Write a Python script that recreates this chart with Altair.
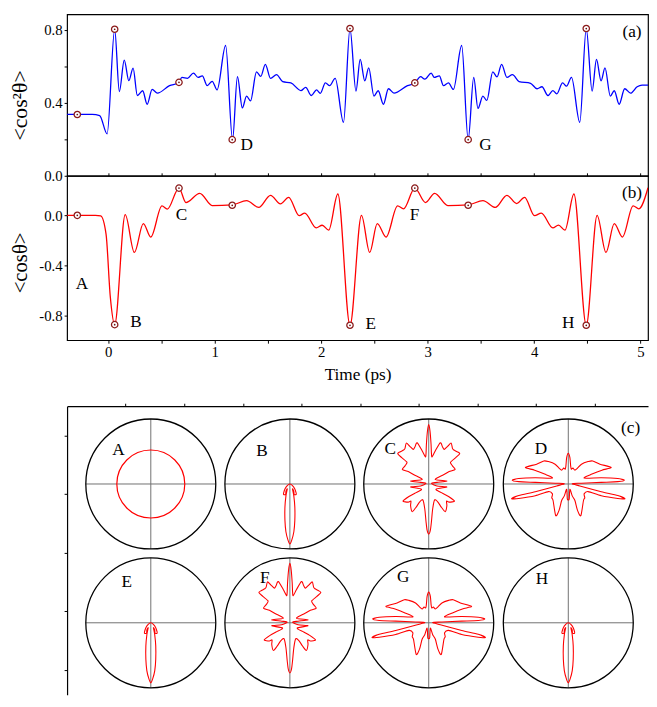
import altair as alt
import pandas as pd

# ---------------- panel (a): <cos^2 theta> vs time ----------------
T_A = [-0.386, -0.15, -0.08, -0.01, 0.061, 0.105, 0.151, 0.194, 0.234, 0.274,
       0.324, 0.366, 0.413, 0.462, 0.576, 0.662, 0.693, 0.745, 0.801, 0.844,
       0.884, 0.930, 0.977, 1.023, 1.103, 1.168, 1.214, 1.26, 1.30, 1.337,
       1.393, 1.433, 1.476, 1.525, 1.581, 1.639, 1.716, 1.81, 1.855, 1.908,
       1.957, 1.992, 2.04, 2.08, 2.132, 2.21, 2.271, 2.327, 2.367, 2.41,
       2.447, 2.496, 2.536, 2.585, 2.632, 2.684, 2.811, 2.881, 2.934, 2.974,
       3.034, 3.062, 3.11, 3.149, 3.196, 3.242, 3.32, 3.381, 3.433, 3.473,
       3.519, 3.556, 3.612, 3.652, 3.695, 3.745, 3.797, 3.859, 3.967, 4.028,
       4.074, 4.13, 4.176, 4.213, 4.268, 4.305, 4.351, 4.429, 4.49, 4.545,
       4.586, 4.629, 4.666, 4.716, 4.753, 4.799, 4.851, 4.906, 4.968, 5.014,
       5.07]
V_A = [0.336, 0.336, 0.33, 0.23, 0.803, 0.462, 0.634, 0.521, 0.59, 0.44,
       0.466, 0.392, 0.473, 0.453, 0.494, 0.51, 0.539, 0.534, 0.563, 0.539,
       0.548, 0.494, 0.518, 0.471, 0.714, 0.198, 0.543, 0.372, 0.437, 0.41,
       0.570, 0.545, 0.611, 0.534, 0.554, 0.516, 0.509, 0.467, 0.485, 0.44,
       0.471, 0.452, 0.509, 0.494, 0.534, 0.293, 0.807, 0.464, 0.638, 0.52,
       0.591, 0.437, 0.466, 0.392, 0.477, 0.453, 0.494, 0.509, 0.543, 0.53,
       0.563, 0.539, 0.548, 0.494, 0.509, 0.473, 0.714, 0.198, 0.539, 0.369,
       0.437, 0.413, 0.570, 0.542, 0.611, 0.539, 0.554, 0.516, 0.507, 0.477,
       0.488, 0.44, 0.467, 0.449, 0.509, 0.491, 0.539, 0.293, 0.807, 0.464,
       0.638, 0.52, 0.591, 0.437, 0.466, 0.392, 0.477, 0.453, 0.488, 0.497,
       0.497]

# ---------------- panel (b): <cos theta> vs time ----------------
T_B = [-0.386, -0.12, -0.07, -0.02, 0.02, 0.061, 0.16, 0.246, 0.33, 0.40,
       0.505, 0.555, 0.665, 0.73, 0.86, 0.977, 1.165, 1.30, 1.414, 1.525,
       1.618, 1.695, 1.794, 1.846, 1.954, 2.01, 2.071, 2.157, 2.271, 2.379,
       2.456, 2.527, 2.61, 2.718, 2.774, 2.88, 2.98, 3.066, 3.19, 3.381,
       3.52, 3.636, 3.745, 3.837, 3.911, 4.004, 4.068, 4.176, 4.229, 4.29,
       4.374, 4.49, 4.592, 4.675, 4.753, 4.83, 4.93, 4.984, 5.07]
V_B = [0.0, 0.0, -0.005, -0.15, -0.65, -0.871, 0.005, -0.296, -0.066, -0.173,
       0.075, 0.049, 0.217, 0.102, 0.175, 0.078, 0.083, 0.118, 0.063, 0.159,
       0.091, 0.143, -0.003, 0.018, -0.1, -0.079, -0.118, 0.17, -0.876, 0.0,
       -0.296, -0.066, -0.173, 0.075, 0.052, 0.217, 0.102, 0.175, 0.078, 0.083,
       0.118, 0.063, 0.159, 0.094, 0.143, -0.003, 0.018, -0.1, -0.078, -0.118,
       0.17, -0.876, 0.0, -0.296, -0.066, -0.173, 0.075, 0.052, 0.22]

# ---------------- snapshot instants A..H ----------------
SNAP = ["A", "B", "C", "D", "E", "F", "G", "H"]
SNAP_T = [-0.29, 0.061, 0.665, 1.165, 2.271, 2.88, 3.381, 4.49]
SNAP_COS2 = [0.336, 0.803, 0.512, 0.198, 0.807, 0.509, 0.198, 0.807]
SNAP_COS = [0.0, -0.871, 0.217, 0.08, -0.876, 0.217, 0.08, -0.876]

# letter annotations in the time panels
LAB_A_TEXT = ["D", "G", "(a)"]
LAB_A_T = [1.30, 3.544, 4.92]
LAB_A_V = [0.171, 0.171, 0.79]
LAB_B_TEXT = ["A", "B", "C", "E", "F", "H", "(b)"]
LAB_B_T = [-0.247, 0.262, 0.689, 2.465, 2.878, 4.321, 4.92]
LAB_B_V = [-0.544, -0.85, 0.0, -0.863, 0.0, -0.858, 0.175]

# ---------------- panel (c): angular distributions ----------------
# snapshot A is isotropic: a circle of this radius (units of the outer circle radius)
SHAPE_A_R = 0.523
# right half of each outline, top -> bottom, in units of circle radius (y up)
SHAPE_B_X = [0.0, 0.04, 0.076, 0.096, 0.096, 0.066, 0.06, 0.04, 0.06, 0.076,
             0.076, 0.061, 0.03, 0.0]
SHAPE_B_Y = [0.0, -0.025, -0.076, -0.137, -0.162, -0.162, -0.11, -0.076, -0.18, -0.355,
             -0.56, -0.735, -0.86, -0.924]
SHAPE_C_X = [0.0, 0.02, 0.036, 0.041, 0.051, 0.10, 0.178, 0.213, 0.239, 0.294,
             0.345, 0.365, 0.386, 0.437, 0.477, 0.416, 0.335, 0.365, 0.406, 0.315,
             0.228, 0.10, 0.279, 0.127, 0.041, 0.127, 0.279, 0.112, 0.213, 0.305,
             0.396, 0.315, 0.274, 0.279, 0.254, 0.193, 0.142, 0.091, 0.061, 0.041,
             0.025, 0.0]
SHAPE_C_Y = [0.914, 0.812, 0.609, 0.482, 0.416, 0.508, 0.635, 0.569, 0.533, 0.584,
             0.629, 0.548, 0.523, 0.497, 0.467, 0.406, 0.335, 0.279, 0.223, 0.193,
             0.142, 0.071, 0.046, 0.025, 0.01, -0.03, -0.046, -0.081, -0.142, -0.193,
             -0.264, -0.279, -0.264, -0.335, -0.426, -0.355, -0.279, -0.244, -0.381, -0.584,
             -0.711, -0.772]
SHAPE_D_X = [0.0, 0.025, 0.036, 0.046, 0.071, 0.102, 0.142, 0.203, 0.305, 0.376,
             0.487, 0.66, 0.518, 0.365, 0.244, 0.508, 0.762, 0.863, 0.762, 0.508,
             0.203, 0.061, 0.178, 0.508, 0.762, 0.873, 0.762, 0.508, 0.305, 0.244,
             0.254, 0.234, 0.193, 0.142, 0.102, 0.061, 0.025, 0.015, 0.0]
SHAPE_D_Y = [0.472, 0.406, 0.284, 0.228, 0.244, 0.213, 0.244, 0.305, 0.345, 0.355,
             0.305, 0.254, 0.213, 0.152, 0.091, 0.096, 0.084, 0.058, 0.036, 0.025,
             0.012, 0.005, -0.03, -0.118, -0.178, -0.228, -0.222, -0.18, -0.117, -0.152,
             -0.213, -0.254, -0.487, -0.406, -0.254, -0.183, -0.081, -0.228, -0.244]
SNAP_SHAPE = ["A", "B", "C", "D", "B", "C", "D", "B"]

# circle centres (panel-c units; one unit = one top-axis tick interval)
CENTER_X = [1.429, 3.803, 6.173, 8.555, 1.429, 3.803, 6.173, 8.555]
CENTER_Y = [1.328, 1.328, 1.328, 1.328, 3.697, 3.697, 3.697, 3.697]
LETTER_X = [0.879, 3.328, 5.518, 8.089, 1.020, 3.373, 5.736, 8.106]
LETTER_Y = [0.751, 0.768, 0.728, 0.728, 3.008, 2.929, 2.924, 2.958]

# ---------------- layout constants ----------------
FONT = "Liberation Serif"
W = 590
H_A, H_B, GAP, H_C = 164, 167, 67, 293
PX = 59.5            # px per panel-c unit
R = 66.0 / PX        # circle radius in panel-c units
LBL = dict(labelFont=FONT, labelFontSize=15, labelColor="black", labelPadding=2,
           tickColor="black", tickSize=3, tickWidth=1, grid=False,
           titleFont=FONT, titleFontWeight="normal", titleColor="black")

X_TICKS = [i * 0.5 for i in range(0, 11)]
xscale = alt.Scale(domain=[-0.386, 5.07], nice=False, zero=False)

# ---------------- panel (a) ----------------
df_a = pd.DataFrame({"t": T_A, "v": V_A})
df_snap = pd.DataFrame({"s": SNAP, "t": SNAP_T, "c2": SNAP_COS2, "c1": SNAP_COS})
yscale_a = alt.Scale(domain=[0, 0.885], nice=False, zero=False)

line_a = alt.Chart(df_a).mark_line(color="#0000ff", strokeWidth=1.3,
                                   interpolate="monotone", clip=True).encode(
    x=alt.X("t:Q", scale=xscale,
            axis=alt.Axis(values=X_TICKS, labels=False, title=None, domain=False,
                          ticks=True, offset=-3, **LBL)),
    y=alt.Y("v:Q", scale=yscale_a,
            axis=alt.Axis(values=[0, 0.2, 0.4, 0.6, 0.8], title="<cos²θ>",
                          labelExpr="round(datum.value*10) % 4 == 0 ? format(datum.value, '.1f') : ''",
                          titleFontSize=22, titleX=-36, titleY=92, domain=False, **LBL)),
)
mk_a = alt.Chart(df_snap).mark_point(shape="circle", filled=True, fill="white",
                                     stroke="#8b1a1a", strokeWidth=1.3, size=42,
                                     opacity=1).encode(
    x=alt.X("t:Q", scale=xscale), y=alt.Y("c2:Q", scale=yscale_a))
dot_a = alt.Chart(df_snap).mark_point(shape="circle", filled=True, color="#6b1010",
                                      size=3, opacity=1).encode(
    x=alt.X("t:Q", scale=xscale), y=alt.Y("c2:Q", scale=yscale_a))
txt_a = alt.Chart(pd.DataFrame({"s": LAB_A_TEXT, "t": LAB_A_T, "v": LAB_A_V})).mark_text(
    font=FONT, fontSize=17.5, color="black").encode(
    x=alt.X("t:Q", scale=xscale), y=alt.Y("v:Q", scale=yscale_a), text="s:N")
panel_a = alt.layer(line_a, mk_a, dot_a, txt_a).properties(width=W, height=H_A)

# ---------------- panel (b) ----------------
df_b = pd.DataFrame({"t": T_B, "v": V_B})
yscale_b = alt.Scale(domain=[-0.995, 0.315], nice=False, zero=False)
line_b = alt.Chart(df_b).mark_line(color="#ff0000", strokeWidth=1.3,
                                   interpolate="monotone", clip=True).encode(
    x=alt.X("t:Q", scale=xscale,
            axis=alt.Axis(values=X_TICKS, title="Time (ps)", titleFontSize=17.5,
                          labelExpr="datum.value % 1 == 0 ? format(datum.value, 'd') : ''",
                          domain=False, titlePadding=6, **LBL)),
    y=alt.Y("v:Q", scale=yscale_b,
            axis=alt.Axis(values=[-0.8, -0.6, -0.4, -0.2, 0.0, 0.2], title="<cosθ>",
                          labelExpr="round(datum.value*10) % 4 == 0 ? ((datum.value < -0.001 ? '-' : '') + format(abs(datum.value), '.1f')) : ''",
                          titleFontSize=21, titleX=-37, titleY=88, domain=False, **LBL)),
)
mk_b = alt.Chart(df_snap).mark_point(shape="circle", filled=True, fill="white",
                                     stroke="#8b1a1a", strokeWidth=1.3, size=42,
                                     opacity=1).encode(
    x=alt.X("t:Q", scale=xscale), y=alt.Y("c1:Q", scale=yscale_b))
dot_b = alt.Chart(df_snap).mark_point(shape="circle", filled=True, color="#6b1010",
                                      size=3, opacity=1).encode(
    x=alt.X("t:Q", scale=xscale), y=alt.Y("c1:Q", scale=yscale_b))
txt_b = alt.Chart(pd.DataFrame({"s": LAB_B_TEXT, "t": LAB_B_T, "v": LAB_B_V})).mark_text(
    font=FONT, fontSize=17.5, color="black").encode(
    x=alt.X("t:Q", scale=xscale), y=alt.Y("v:Q", scale=yscale_b), text="s:N")
panel_b = alt.layer(line_b, mk_b, dot_b, txt_b).properties(width=W, height=H_B)

# ---------------- spacer ----------------
spacer = alt.Chart(pd.DataFrame({"t": [0.0]})).mark_point(opacity=0).encode(
    x=alt.X("t:Q", axis=None), y=alt.Y("t:Q", axis=None)
).properties(width=W, height=GAP, view=alt.ViewBackground(stroke="transparent"))

# ---------------- panel (c) ----------------
shapes = {"B": (SHAPE_B_X, SHAPE_B_Y), "C": (SHAPE_C_X, SHAPE_C_Y),
          "D": (SHAPE_D_X, SHAPE_D_Y)}
rows = []
for s, key, cx, cy in zip(SNAP, SNAP_SHAPE, CENTER_X, CENTER_Y):
    if key not in shapes:
        continue
    xs, ys = shapes[key]
    pts = list(zip(xs, ys))
    full = pts + [(-x, y) for x, y in reversed(pts[1:-1])]
    for k, (dx, dy) in enumerate(full):
        rows.append({"s": s, "k": k, "x": cx + dx * R, "y": cy - dy * R})
df_shape = pd.DataFrame(rows)
df_c = pd.DataFrame({"s": SNAP, "cx": CENTER_X, "cy": CENTER_Y,
                     "x1": [c - R for c in CENTER_X], "x2": [c + R for c in CENTER_X],
                     "y1": [c - R for c in CENTER_Y], "y2": [c + R for c in CENTER_Y],
                     "lx": LETTER_X, "ly": LETTER_Y, "shape": SNAP_SHAPE})

cx_scale = alt.Scale(domain=[0, W / PX], nice=False, zero=False)
cy_scale = alt.Scale(domain=[0, H_C / PX], nice=False, zero=False, reverse=True)

circ = alt.Chart(df_c).mark_point(shape="circle", filled=False, stroke="black",
                                  strokeWidth=1.3, size=(2 * R * PX) ** 2, opacity=1).encode(
    x=alt.X("cx:Q", scale=cx_scale,
            axis=alt.Axis(orient="top", values=list(range(1, 10)), labels=False,
                          title=None, domain=True, domainColor="black", domainWidth=1.2, **LBL)),
    y=alt.Y("cy:Q", scale=cy_scale,
            axis=alt.Axis(orient="left", values=[0.5 * i for i in range(1, 10)],
                          labels=False, title=None, domain=True, domainColor="black",
                          domainWidth=1.2, **LBL)),
)
iso = alt.Chart(df_c).transform_filter(alt.datum.shape == "A").mark_point(
    shape="circle", filled=False, stroke="#ff0000", strokeWidth=1.2,
    size=(2 * SHAPE_A_R * R * PX) ** 2, opacity=1).encode(
    x=alt.X("cx:Q", scale=cx_scale), y=alt.Y("cy:Q", scale=cy_scale))
hline = alt.Chart(df_c).mark_rule(color="#707070", strokeWidth=1).encode(
    x=alt.X("x1:Q", scale=cx_scale), x2="x2:Q", y=alt.Y("cy:Q", scale=cy_scale))
vline = alt.Chart(df_c).mark_rule(color="#707070", strokeWidth=1).encode(
    x=alt.X("cx:Q", scale=cx_scale), y=alt.Y("y1:Q", scale=cy_scale), y2="y2:Q")
polar = alt.Chart(df_shape).mark_line(color="#ff0000", strokeWidth=1.1,
                                      interpolate="cardinal-closed", tension=0.25).encode(
    x=alt.X("x:Q", scale=cx_scale), y=alt.Y("y:Q", scale=cy_scale),
    detail="s:N", order="k:Q")
letters = alt.Chart(df_c).mark_text(font=FONT, fontSize=17.5, color="black").encode(
    x=alt.X("lx:Q", scale=cx_scale), y=alt.Y("ly:Q", scale=cy_scale), text="s:N")
tag_c = alt.Chart(pd.DataFrame({"s": ["(c)"], "x": [9.62], "y": [0.375]})).mark_text(
    font=FONT, fontSize=17.5, color="black").encode(
    x=alt.X("x:Q", scale=cx_scale), y=alt.Y("y:Q", scale=cy_scale), text="s:N")
panel_c = alt.layer(hline, vline, circ, iso, polar, letters, tag_c).properties(
    width=W, height=H_C, view=alt.ViewBackground(stroke="transparent"))

chart = alt.vconcat(panel_a, panel_b, spacer, panel_c, spacing=0, bounds="flush").properties(
    padding={"left": 0, "top": 0, "right": 0, "bottom": 0}
).configure(font=FONT).configure_view(stroke="black", strokeWidth=1.2).configure_axis(
    labelFont=FONT, titleFont=FONT, labelFontSize=15, titleFontWeight="normal",
    labelColor="black", titleColor="black", tickColor="black", domainColor="black",
    grid=False)

chart.save("out.html", embed_options={"renderer": "svg", "actions": False})
